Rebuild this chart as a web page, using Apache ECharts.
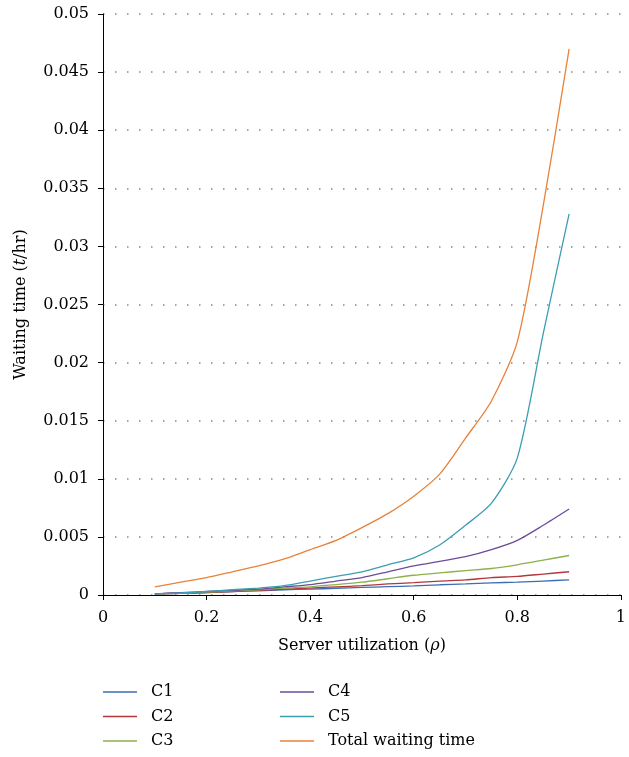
<!DOCTYPE html>
<html><head><meta charset="utf-8">
<script src="https://cdn.jsdelivr.net/npm/echarts@6/dist/echarts.min.js"></script>
<style>html,body{margin:0;padding:0;background:#fff}#c{width:629px;height:757px}</style>
</head><body><div id="c"></div>
<script>
const rho = [0.1,0.15,0.2,0.25,0.3,0.35,0.4,0.45,0.5,0.55,0.6,0.65,0.7,0.75,0.8,0.85,0.9];
const C1 = [0.0001,0.00015,0.0002,0.0003,0.00035,0.00045,0.0005,0.00058,0.00065,0.00072,0.00078,0.00088,0.00095,0.00105,0.0011,0.0012,0.0013];
const C2 = [0.0001,0.00015,0.0002,0.0003,0.0004,0.0005,0.0006,0.0007,0.0008,0.00095,0.00106,0.0012,0.0013,0.0015,0.0016,0.0018,0.002];
const C3 = [0.0001,0.00015,0.00025,0.00035,0.00045,0.0006,0.0007,0.0009,0.0011,0.0014,0.0017,0.0019,0.0021,0.00228,0.0026,0.003,0.0034];
const C4 = [0.0001,0.0002,0.0003,0.0004,0.0005,0.0007,0.0009,0.0012,0.0015,0.002,0.0025,0.0029,0.0033,0.0039,0.0047,0.006,0.0074];
const C5 = [0.0001,0.00018,0.0003,0.00045,0.0006,0.0008,0.0012,0.0016,0.002,0.0026,0.0032,0.0043,0.006,0.0079,0.0118,0.0225,0.0328];
const Total = [0.0007,0.0011,0.0015,0.002,0.0025,0.0031,0.0039,0.0047,0.0058,0.007,0.0085,0.0104,0.0135,0.0167,0.0218,0.0335,0.047];
const names = ['C1','C2','C3','C4','C5','Total waiting time'];
const values = [C1,C2,C3,C4,C5,Total];
const colors = ['#3C6EB4','#B2383B','#8DB04A','#6B4C9A','#3D9DB3','#E8823A'];
const FONT = '"DejaVu Serif", "Liberation Serif", serif';
const FS = 16;

const legendText = {fontFamily:FONT,fontSize:FS,color:'#000',lineHeight:16,padding:[0,0,0,9]};
const chart = echarts.init(document.getElementById('c'));
chart.setOption({
  animation:false,
  textStyle:{fontFamily:FONT,color:'#000'},
  grid:{left:103,right:3,top:14,bottom:162,containLabel:false},
  xAxis:{type:'value',min:0,max:1,interval:0.2,
    name:'Server utilization ({i|ρ})',nameLocation:'middle',nameGap:43,
    nameTextStyle:{fontFamily:FONT,fontSize:FS,color:'#000',rich:{i:{fontFamily:FONT,fontStyle:'italic',fontSize:FS,color:'#000'}}},
    axisLine:{lineStyle:{color:'#000',width:1}},
    axisTick:{show:true,length:5,lineStyle:{color:'#000'}},
    axisLabel:{fontFamily:FONT,fontSize:FS,color:'#000',margin:15,formatter:v=>String(+v.toFixed(1))},
    splitLine:{show:false}},
  yAxis:{type:'value',min:0,max:0.05,interval:0.005,
    name:'Waiting time ({i|t}/hr)',nameLocation:'middle',nameGap:74,
    nameTextStyle:{fontFamily:FONT,fontSize:FS,color:'#000',rich:{i:{fontFamily:FONT,fontStyle:'italic',fontSize:FS,color:'#000'}}},
    axisLine:{show:true,lineStyle:{color:'#000',width:1}},
    axisTick:{show:true,length:5,lineStyle:{color:'#000'}},
    axisLabel:{fontFamily:FONT,fontSize:FS,color:'#000',margin:14,formatter:v=>String(+v.toFixed(3))},
    splitLine:{show:true,lineStyle:{color:'#888',type:[1.5,10.5],width:1.5}}},
  legend:[
    {data:['C1','C2','C3'],orient:'vertical',left:103,top:684,padding:0,height:100,itemGap:8.5,itemWidth:34,itemHeight:1.5,icon:'rect',
     textStyle:legendText},
    {data:['C4','C5','Total waiting time'],orient:'vertical',left:280,top:684,padding:0,height:100,itemGap:8.5,itemWidth:34,itemHeight:1.5,icon:'rect',
     textStyle:legendText}
  ],
  series: names.map((n,i)=>({
    name:n,type:'line',symbol:'none',smooth:0.25,
    color:colors[i],
    itemStyle:{color:colors[i]},
    lineStyle:{width:1.3,color:colors[i]},
    data: rho.map((x,j)=>[x,values[i][j]])
  }))
});
</script></body></html>
